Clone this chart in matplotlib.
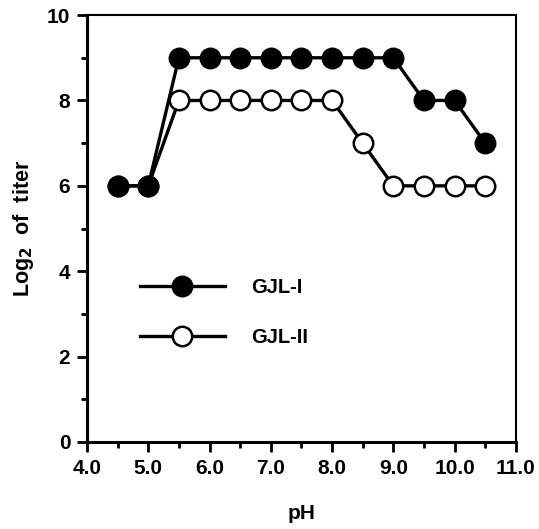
import matplotlib
matplotlib.use("Agg")
import matplotlib.pyplot as plt
from matplotlib.ticker import MultipleLocator, FixedLocator

ph = [4.5, 5.0, 5.5, 6.0, 6.5, 7.0, 7.5, 8.0, 8.5, 9.0, 9.5, 10.0, 10.5]
gjl1 = [6, 6, 9, 9, 9, 9, 9, 9, 9, 9, 8, 8, 7]
gjl2 = [6, 6, 8, 8, 8, 8, 8, 8, 7, 6, 6, 6, 6]
xticks = [4.0, 5.0, 6.0, 7.0, 8.0, 9.0, 10.0, 11.0]
xticklabels = ["4.0", "5.0", "6.0", "7.0", "8.0", "9.0", "10.0", "11.0"]
yticks = [0, 2, 4, 6, 8, 10]

plt.rcParams['font.family'] = ['Liberation Sans', 'DejaVu Sans']
plt.rcParams['font.weight'] = 'bold'
plt.rcParams['mathtext.default'] = 'bf'
fs = 15

fig = plt.figure(figsize=(5.39, 5.29), dpi=100)
ax = fig.add_axes([0.1614, 0.1645, 0.7956, 0.807])

ax.plot(ph, gjl2, color='black', lw=2.4, marker='o', ms=14, mfc='white', mec='black', mew=1.8, label='GJL-II', zorder=2)
ax.plot(ph, gjl1, color='black', lw=2.4, marker='o', ms=14, mfc='black', mec='black', mew=1.8, label='GJL-I', zorder=3)

ax.set_xlim(4.0, 11.0)
ax.set_ylim(0, 10)
ax.xaxis.set_major_locator(FixedLocator(xticks))
ax.set_xticklabels(xticklabels)
ax.xaxis.set_minor_locator(MultipleLocator(0.5))
ax.yaxis.set_major_locator(FixedLocator(yticks))
ax.yaxis.set_minor_locator(MultipleLocator(1))
ax.tick_params(which='major', direction='out', length=7, width=2, labelsize=fs, pad=5)
ax.tick_params(which='minor', direction='out', length=4, width=2)
for lab in ax.get_xticklabels() + ax.get_yticklabels():
    lab.set_fontweight('bold')
for s in ax.spines.values():
    s.set_linewidth(1.5)
ax.spines['left'].set_linewidth(2.2)
ax.spines['bottom'].set_linewidth(2.2)

ax.set_xlabel('pH', fontsize=fs, fontweight='bold', labelpad=19)
ax.set_ylabel('Log$_2$  of  titer', fontsize=15.5, fontweight='bold', labelpad=8)

h, l = ax.get_legend_handles_labels()
leg = ax.legend(h[::-1], l[::-1], loc='upper left', bbox_to_anchor=(0.105, 0.404),
                frameon=False, handlelength=4.2, labelspacing=1.55, handletextpad=1.3,
                prop={'weight': 'bold', 'size': 14.5}, borderaxespad=0)

fig.savefig('out.png', dpi=100)
